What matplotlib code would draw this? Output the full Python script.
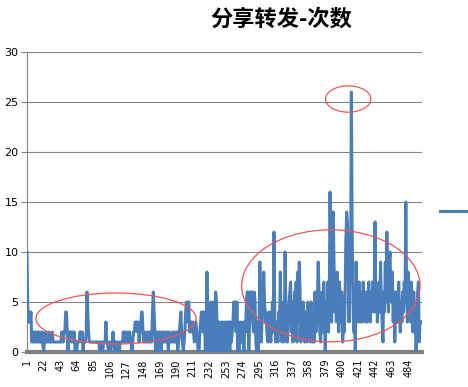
import numpy as np
import matplotlib
matplotlib.use("Agg")
import matplotlib.pyplot as plt
from matplotlib.patches import Ellipse

# share / forward counts, one value per item (1..500)
counts = [
    10, 4, 3, 4, 3, 4, 1, 2, 1, 2, 1, 1, 2, 1, 2, 1, 2, 1, 1, 2, 1,
    0, 1, 2, 1, 1, 1, 1, 2, 1, 1, 1, 2, 1, 1, 1, 1, 1, 1, 1, 1, 1,
    1, 1, 2, 1, 1, 2, 2, 4, 4, 2, 0, 2, 1, 2, 2, 1, 2, 1, 2, 0, 1,
    0, 1, 1, 1, 2, 2, 1, 2, 0, 1, 1, 1, 2, 6, 4, 2, 1, 1, 1, 1, 1,
    1, 1, 1, 1, 1, 1, 1, 1, 0, 1, 1, 1, 0, 1, 1, 1, 3, 1, 1, 0, 0,
    1, 0, 1, 1, 2, 1, 0, 1, 1, 0, 0, 1, 0, 1, 1, 1, 1, 2, 1, 2, 1,
    1, 2, 1, 1, 2, 1, 1, 0, 1, 2, 2, 3, 3, 3, 2, 3, 1, 2, 2, 4, 4,
    2, 1, 2, 1, 1, 2, 1, 2, 1, 1, 2, 1, 4, 6, 4, 2, 0, 2, 0, 1, 2,
    2, 1, 0, 2, 1, 2, 1, 1, 2, 1, 2, 0, 2, 1, 1, 1, 2, 1, 1, 2, 1,
    1, 2, 0, 1, 2, 3, 4, 2, 1, 0, 1, 2, 4, 5, 3, 5, 5, 2, 3, 3, 2,
    3, 2, 1, 2, 3, 2, 1, 0, 0, 2, 3, 4, 4, 2, 4, 3, 0, 2, 8, 3, 0,
    2, 0, 5, 0, 2, 5, 3, 0, 6, 5, 2, 0, 3, 1, 0, 3, 0, 3, 2, 0, 3,
    3, 0, 3, 2, 3, 0, 3, 1, 2, 3, 5, 3, 5, 2, 5, 0, 2, 0, 3, 2, 1,
    3, 1, 0, 3, 2, 5, 6, 6, 0, 3, 6, 4, 6, 3, 2, 6, 5, 1, 0, 3, 0,
    2, 9, 5, 1, 4, 6, 8, 5, 3, 4, 2, 1, 3, 4, 2, 1, 3, 5, 2, 12, 3,
    1, 3, 2, 1, 4, 3, 8, 2, 1, 3, 5, 1, 10, 4, 2, 1, 3, 5, 6, 7, 2,
    5, 1, 3, 6, 2, 7, 1, 8, 3, 9, 6, 1, 4, 2, 5, 2, 1, 4, 3, 1, 5,
    2, 4, 1, 5, 2, 1, 4, 1, 6, 2, 3, 5, 9, 6, 2, 1, 3, 6, 2, 7, 3,
    0, 5, 3, 7, 2, 5, 16, 8, 3, 12, 14, 9, 4, 7, 3, 8, 5, 2, 7, 3, 6,
    6, 1, 4, 2, 5, 11, 14, 13, 9, 3, 8, 7, 26, 12, 5, 2, 4, 0, 9, 6, 3,
    5, 7, 3, 6, 4, 3, 7, 5, 4, 3, 6, 3, 5, 7, 4, 3, 6, 5, 7, 4, 6,
    13, 4, 6, 3, 5, 7, 4, 9, 5, 3, 1, 6, 4, 9, 5, 12, 7, 4, 9, 10, 6,
    5, 8, 3, 6, 1, 4, 6, 3, 5, 7, 4, 2, 5, 3, 6, 4, 7, 5, 15, 6, 3,
    8, 4, 6, 3, 7, 5, 2, 6, 4, 3, 0, 2, 6, 7, 1, 3, 3,
]
items = np.arange(1, len(counts) + 1)
x_ticks = np.arange(1, 485, 21)
y_ticks = [0, 5, 10, 15, 20, 25, 30]

# red circles marking regions: (center x, center y, width, height)
marks = [
    (113.8, 3.35, 203, 5.1),
    (386, 6.62, 226, 11.2),
    (408, 25.3, 57.4, 2.63),
]

fig = plt.figure(figsize=(4.68, 3.87), dpi=100)
ax = fig.add_axes([0.0577, 0.0904, 0.9017 - 0.0577, 0.8656 - 0.0904])

gray = "#868686"
line, = ax.plot(items, counts, color="#4a7ebb", lw=2.2, zorder=3,
                solid_joinstyle="round")

ax.set_xlim(1, 501.5)
ax.set_ylim(0, 30)
ax.set_yticks(y_ticks)
ax.set_xticks(x_ticks)
ax.set_xticklabels([str(v) for v in x_ticks], rotation=90, fontsize=7)
ax.tick_params(axis="y", labelsize=8, length=4, color=gray, width=0.8, pad=2)
ax.tick_params(axis="x", length=0, pad=5)
ax.yaxis.grid(True, color=gray, lw=0.8)
ax.set_axisbelow(True)
for s in ("top", "right"):
    ax.spines[s].set_visible(False)
ax.spines["left"].set_color(gray)
ax.spines["left"].set_linewidth(0.8)
ax.spines["bottom"].set_color("#808080")
ax.spines["bottom"].set_linewidth(3)

for cx, cy, w, h in marks:
    ax.add_patch(Ellipse((cx, cy), w, h, fill=False, ec="#f05555",
                         lw=0.9, zorder=4, clip_on=False))

fig.text(281 / 468, 1 - 19 / 387, "分享转发-次数", ha="center", va="center",
         fontsize=16, fontweight="bold",
         family=["Noto Sans CJK SC", "DejaVu Sans"])

fig.legend([line], [" "], loc="center left",
           bbox_to_anchor=(440 / 468, 1 - 212 / 387), frameon=False,
           borderpad=0, borderaxespad=0, handlelength=3, fontsize=8)

fig.savefig("out.png", dpi=100)
